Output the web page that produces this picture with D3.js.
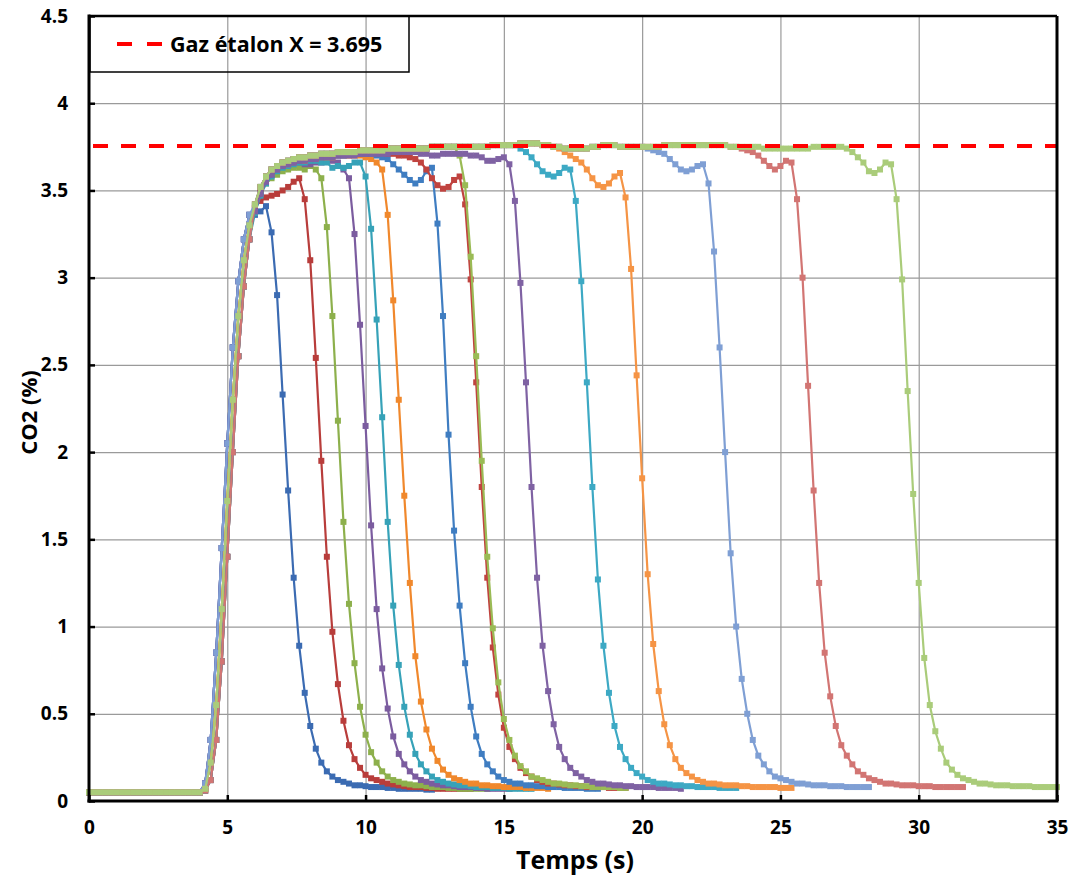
<!DOCTYPE html>
<html>
<head>
<meta charset="utf-8">
<script src="https://cdn.jsdelivr.net/npm/d3@7"></script>
<style>
  body { margin: 0; background: #fff; }
  text { font-family: "Open Sans", "Noto Sans", sans-serif; font-weight: 700; }
</style>
</head>
<body>
<div id="chart"></div>
<script>
// sampling step of the recordings (s)
var dt = 0.2;
var xTicks = [0, 5, 10, 15, 20, 25, 30, 35];
var yTicks = [0, 0.5, 1, 1.5, 2, 2.5, 3, 3.5, 4, 4.5];
var refLevel = 3.755;
var legendLabel = "Gaz étalon X = 3.695";

// common start of every run, t = 0 .. 5.8 s (three slightly shifted rises)
var riseA = [0.05,0.05,0.05,0.05,0.05,0.05,0.05,0.05,0.05,0.05,0.05,0.05,0.05,0.05,0.05,0.05,0.05,0.05,0.05,0.05,0.05,
  0.10,0.35,0.85,1.45,2.05,2.60,2.98,3.22,3.36];
var riseB = [0.05,0.05,0.05,0.05,0.05,0.05,0.05,0.05,0.05,0.05,0.05,0.05,0.05,0.05,0.05,0.05,0.05,0.05,0.05,0.05,0.05,
  0.07,0.22,0.55,1.10,1.72,2.30,2.78,3.10,3.30];
var riseC = [0.05,0.05,0.05,0.05,0.05,0.05,0.05,0.05,0.05,0.05,0.05,0.05,0.05,0.05,0.05,0.05,0.05,0.05,0.05,0.05,0.05,
  0.06,0.12,0.35,0.80,1.40,2.00,2.55,2.95,3.22];

// upper plateau shared by the long runs, t = 6.0 .. 27.2 s
var plateauTop = [
  3.42,3.52,3.58,3.62,3.64,3.66,3.67,3.68,3.69,3.69,
  3.70,3.70,3.71,3.71,3.71,3.72,3.72,3.72,3.72,3.73,
  3.73,3.73,3.73,3.73,3.74,3.74,3.74,3.74,3.74,3.74,
  3.74,3.74,3.75,3.75,3.75,3.75,3.75,3.75,3.75,3.75,
  3.75,3.75,3.75,3.76,3.76,3.76,3.76,3.76,3.77,3.77,
  3.77,3.77,3.76,3.76,3.75,3.75,3.74,3.74,3.74,3.74,
  3.74,3.75,3.75,3.76,3.76,3.76,3.75,3.75,3.75,3.75,
  3.75,3.75,3.75,3.75,3.76,3.76,3.76,3.76,3.76,3.76,
  3.76,3.76,3.76,3.76,3.76,3.76,3.75,3.75,3.75,3.75,
  3.75,3.75,3.74,3.74,3.74,3.74,3.74,3.74,3.74,3.74,
  3.74,3.75,3.75,3.75,3.75,3.75,3.75];

// own part of each run, beginning at seriesStart
var s1 = [3.36,3.38,3.41,3.26,2.90,2.33,1.78,1.28,0.89,0.62,
  0.43,0.30,0.22,0.17,0.14,0.12,0.11,0.10,0.09,0.09,
  0.085,0.08,0.08,0.08,0.075,0.075,0.07,0.07,0.07,0.07,
  0.07,0.065,0.065];
var s2 = [3.40,3.44,3.46,3.47,3.48,3.50,3.52,3.55,3.57,3.45,
  3.10,2.54,1.95,1.40,0.97,0.67,0.46,0.32,0.24,0.19,
  0.15,0.13,0.12,0.11,0.10,0.095,0.09,0.085,0.08,0.08,
  0.08,0.075,0.075,0.07,0.07,0.07,0.07,0.07,0.07,0.07];
var s3 = [3.38,3.48,3.54,3.57,3.59,3.61,3.62,3.63,3.63,3.62,
  3.64,3.62,3.57,3.29,2.78,2.18,1.60,1.13,0.79,0.54,
  0.38,0.28,0.22,0.17,0.14,0.12,0.11,0.10,0.095,0.09,
  0.09,0.085,0.08,0.08,0.08,0.075,0.075,0.07,0.07,0.07,
  0.07,0.07,0.07];
var s4 = [3.39,3.49,3.55,3.59,3.62,3.64,3.65,3.66,3.66,3.65,
  3.65,3.66,3.66,3.67,3.67,3.66,3.62,3.57,3.25,2.73,
  2.15,1.58,1.10,0.76,0.53,0.37,0.27,0.21,0.17,0.14,
  0.12,0.11,0.10,0.095,0.09,0.09,0.085,0.08,0.08,0.08,
  0.075,0.075,0.07,0.07,0.07,0.07,0.07];
var s5 = [3.37,3.47,3.54,3.58,3.61,3.63,3.64,3.65,3.66,3.66,
  3.67,3.67,3.66,3.66,3.63,3.64,3.63,3.64,3.66,3.66,
  3.58,3.28,2.76,2.20,1.60,1.12,0.78,0.54,0.38,0.27,
  0.21,0.17,0.14,0.12,0.11,0.10,0.095,0.09,0.09,0.085,
  0.08,0.08,0.08,0.075,0.075,0.075,0.07,0.07,0.07,0.07,0.07];
var s6 = [3.40,3.50,3.56,3.60,3.62,3.64,3.65,3.66,3.67,3.67,
  3.68,3.68,3.69,3.69,3.69,3.70,3.70,3.70,3.70,3.70,
  3.69,3.68,3.66,3.62,3.36,2.87,2.30,1.75,1.25,0.83,
  0.57,0.41,0.30,0.23,0.18,0.15,0.13,0.12,0.11,0.10,
  0.10,0.09,0.09,0.085,0.085,0.08,0.08,0.08,0.08,0.075,
  0.075,0.075,0.075,0.07];
var s7 = [3.39,3.49,3.55,3.59,3.62,3.64,3.65,3.66,3.67,3.68,
  3.68,3.69,3.69,3.70,3.70,3.70,3.70,3.71,3.71,3.71,
  3.71,3.71,3.70,3.69,3.68,3.65,3.62,3.59,3.56,3.54,
  3.56,3.61,3.63,3.31,2.78,2.10,1.55,1.12,0.79,0.54,
  0.37,0.27,0.21,0.17,0.14,0.12,0.11,0.10,0.10,0.09,
  0.09,0.085,0.085,0.08,0.08,0.08,0.075,0.075,0.075,0.075,
  0.07,0.07,0.07];
var s8 = [3.41,3.51,3.57,3.61,3.63,3.65,3.66,3.67,3.68,3.68,
  3.69,3.69,3.70,3.70,3.71,3.71,3.71,3.72,3.72,3.72,
  3.72,3.72,3.72,3.72,3.71,3.71,3.70,3.70,3.69,3.68,
  3.66,3.62,3.57,3.53,3.51,3.52,3.56,3.58,3.42,2.99,
  2.40,1.80,1.28,0.88,0.61,0.42,0.31,0.24,0.19,0.16,
  0.14,0.12,0.11,0.10,0.10,0.095,0.09,0.09,0.085,0.085,
  0.08,0.08,0.08,0.08,0.075,0.075,0.075,0.075];
var s9 = [3.70,3.53,3.12,2.55,1.95,1.40,0.99,0.68,0.47,0.35,
  0.26,0.20,0.17,0.14,0.13,0.12,0.11,0.10,0.10,0.095,
  0.09,0.09,0.085,0.085,0.08,0.08,0.08,0.08,0.08,0.075,0.075];
var s10 = [3.38,3.48,3.55,3.59,3.62,3.64,3.65,3.66,3.67,3.67,
  3.68,3.68,3.69,3.69,3.69,3.70,3.70,3.70,3.70,3.71,
  3.71,3.71,3.71,3.71,3.71,3.72,3.72,3.72,3.72,3.72,
  3.71,3.71,3.70,3.70,3.71,3.71,3.71,3.71,3.71,3.70,
  3.70,3.69,3.67,3.67,3.68,3.69,3.65,3.44,2.97,2.40,
  1.80,1.28,0.89,0.63,0.44,0.31,0.24,0.19,0.16,0.14,
  0.12,0.11,0.10,0.10,0.095,0.09,0.09,0.085,0.085,0.08,
  0.08,0.08,0.08,0.075,0.075,0.075,0.075,0.07];
var s11 = [3.74,3.72,3.69,3.65,3.61,3.59,3.58,3.60,3.63,3.62,
  3.44,2.98,2.40,1.80,1.27,0.89,0.62,0.43,0.31,0.24,
  0.19,0.16,0.14,0.12,0.11,0.10,0.10,0.095,0.09,0.09,
  0.085,0.085,0.08,0.08,0.08,0.08,0.075,0.075,0.075,0.075];
var s12 = [3.74,3.72,3.70,3.68,3.66,3.62,3.57,3.53,3.52,3.54,
  3.58,3.60,3.46,3.05,2.44,1.85,1.30,0.90,0.63,0.44,
  0.32,0.24,0.19,0.16,0.14,0.12,0.11,0.10,0.10,0.095,
  0.09,0.09,0.09,0.085,0.085,0.08,0.08,0.08,0.08,0.08,
  0.075,0.075,0.075];
var s13 = [3.74,3.73,3.72,3.71,3.68,3.65,3.62,3.61,3.62,3.64,
  3.65,3.54,3.15,2.60,2.00,1.42,1.00,0.70,0.50,0.35,
  0.26,0.21,0.17,0.14,0.13,0.12,0.11,0.10,0.10,0.095,
  0.09,0.09,0.09,0.085,0.085,0.085,0.08,0.08,0.08,0.08,0.08];
var s14 = [3.74,3.73,3.72,3.70,3.67,3.64,3.62,3.64,3.67,3.66,
  3.45,3.00,2.38,1.78,1.25,0.85,0.60,0.43,0.32,0.26,
  0.21,0.17,0.15,0.13,0.12,0.11,0.10,0.10,0.095,0.09,
  0.09,0.09,0.085,0.085,0.085,0.08,0.08,0.08,0.08,0.08,0.08];
var s15 = [3.74,3.72,3.69,3.66,3.61,3.60,3.62,3.66,3.65,3.45,
  2.99,2.35,1.76,1.25,0.82,0.55,0.40,0.30,0.22,0.18,
  0.15,0.13,0.12,0.11,0.10,0.10,0.095,0.09,0.09,0.09,
  0.085,0.085,0.085,0.085,0.08,0.08,0.08,0.08,0.08];

var seriesOwn = [s1, s2, s3, s4, s5, s6, s7, s8, s9, s10, s11, s12, s13, s14, s15];
var seriesRise = [riseA, riseC, riseB, riseA, riseC, riseB, riseA, riseC, riseB, riseA, riseC, riseB, riseA, riseC, riseB];
var seriesStart = [6.0, 6.0, 6.0, 6.0, 6.0, 6.0, 6.0, 6.0, 13.4, 6.0, 15.6, 17.0, 20.2, 23.6, 27.4];
var seriesColors = ["#3b6bb2", "#b83d3b", "#8db04c", "#7b5c9f", "#36a2b8", "#f0882c", "#3f7dc1", "#c0433f",
  "#9abb55", "#7f62a3", "#3da9c4", "#f59445", "#7f9fd4", "#d27573", "#aacc7a"];

// set the dimensions and margins of the graph
var margin = { top: 16, right: 15, bottom: 76, left: 89 },
  width = 1072 - margin.left - margin.right,
  height = 877 - margin.top - margin.bottom;

var svg = d3.select("#chart")
  .append("svg")
  .attr("width", width + margin.left + margin.right)
  .attr("height", height + margin.top + margin.bottom)
  .style("background", "#fff")
  .append("g")
  .attr("transform", "translate(" + margin.left + "," + margin.top + ")");

var x = d3.scaleLinear().domain([0, 35]).range([0, width]);
var y = d3.scaleLinear().domain([0, 4.5]).range([height, 0]);

// grid
svg.append("g")
  .attr("transform", "translate(0," + height + ")")
  .call(d3.axisBottom(x).tickValues(xTicks.slice(1, -1)).tickSize(-height).tickFormat(""))
  .call(function (g) { g.select(".domain").remove(); })
  .selectAll("line").attr("stroke", "#9a9a9a").attr("stroke-width", 1.2);
svg.append("g")
  .call(d3.axisLeft(y).tickValues(yTicks.slice(1, -1)).tickSize(-width).tickFormat(""))
  .call(function (g) { g.select(".domain").remove(); })
  .selectAll("line").attr("stroke", "#9a9a9a").attr("stroke-width", 1.2);

// build the points of one run
function buildPoints(i) {
  var pts = [];
  seriesRise[i].forEach(function (v, k) { pts.push([k * dt, v]); });
  var n = Math.round((seriesStart[i] - 6) / dt);
  for (var k = 0; k < n; k++) pts.push([6 + k * dt, plateauTop[k]]);
  seriesOwn[i].forEach(function (v, k) { pts.push([seriesStart[i] + k * dt, v]); });
  return pts;
}

var line = d3.line()
  .x(function (d) { return x(d[0]); })
  .y(function (d) { return y(d[1]); });

seriesOwn.forEach(function (s, i) {
  var pts = buildPoints(i);
  var g = svg.append("g");
  g.append("path")
    .datum(pts)
    .attr("d", line)
    .attr("fill", "none")
    .attr("stroke", seriesColors[i])
    .attr("stroke-width", 2.2)
    .attr("stroke-linejoin", "round");
  g.selectAll("rect")
    .data(pts)
    .enter()
    .append("rect")
    .attr("x", function (d) { return x(d[0]) - 3; })
    .attr("y", function (d) { return y(d[1]) - 3; })
    .attr("width", 6)
    .attr("height", 6)
    .attr("fill", seriesColors[i]);
});

// reference gas level
svg.append("line")
  .attr("x1", x(0)).attr("x2", x(35))
  .attr("y1", y(refLevel)).attr("y2", y(refLevel))
  .attr("stroke", "#ff0000")
  .attr("stroke-width", 4)
  .attr("stroke-dasharray", "15,13")
  .attr("stroke-dashoffset", -4);

// axes
var xAxis = svg.append("g")
  .attr("transform", "translate(0," + height + ")")
  .call(d3.axisBottom(x).tickValues(xTicks).tickSizeInner(-6).tickSizeOuter(0).tickPadding(20)
    .tickFormat(function (d) { return String(d); }));
var yAxis = svg.append("g")
  .call(d3.axisLeft(y).tickValues(yTicks).tickSizeInner(-6).tickSizeOuter(0).tickPadding(21)
    .tickFormat(function (d) { return String(d); }));
[xAxis, yAxis].forEach(function (a) {
  a.select(".domain").remove();
  a.selectAll("line").attr("stroke", "#000").attr("stroke-width", 2.5);
  a.selectAll("text").style("font-size", "19px").attr("fill", "#000");
});

// frame
svg.append("line").attr("x1", 0).attr("x2", width).attr("y1", 0).attr("y2", 0)
  .attr("stroke", "#000").attr("stroke-width", 2.5);
svg.append("line").attr("x1", width).attr("x2", width).attr("y1", 0).attr("y2", height)
  .attr("stroke", "#000").attr("stroke-width", 3);
svg.append("line").attr("x1", 0).attr("x2", 0).attr("y1", -1.5).attr("y2", height + 1.5)
  .attr("stroke", "#000").attr("stroke-width", 3);
svg.append("line").attr("x1", -1.5).attr("x2", width + 1.5).attr("y1", height).attr("y2", height)
  .attr("stroke", "#000").attr("stroke-width", 3);

// legend
var legend = svg.append("g");
legend.append("rect")
  .attr("x", 1).attr("y", 0)
  .attr("width", 319).attr("height", 56)
  .attr("fill", "none")
  .attr("stroke", "#000")
  .attr("stroke-width", 1.5);
legend.append("line")
  .attr("x1", 28).attr("x2", 73)
  .attr("y1", 28).attr("y2", 28)
  .attr("stroke", "#ff0000")
  .attr("stroke-width", 4)
  .attr("stroke-dasharray", "15,15");
legend.append("text")
  .attr("x", 81).attr("y", 36)
  .style("font-size", "21.5px")
  .text(legendLabel);

// axis titles
svg.append("text")
  .attr("x", 486)
  .attr("y", 853)
  .attr("text-anchor", "middle")
  .style("font-size", "25px")
  .text("Temps (s)");
svg.append("text")
  .attr("transform", "translate(-52," + (height / 2 + 4) + ") rotate(-90)")
  .attr("text-anchor", "middle")
  .style("font-size", "22px")
  .text("CO2 (%)");
</script>
</body>
</html>
